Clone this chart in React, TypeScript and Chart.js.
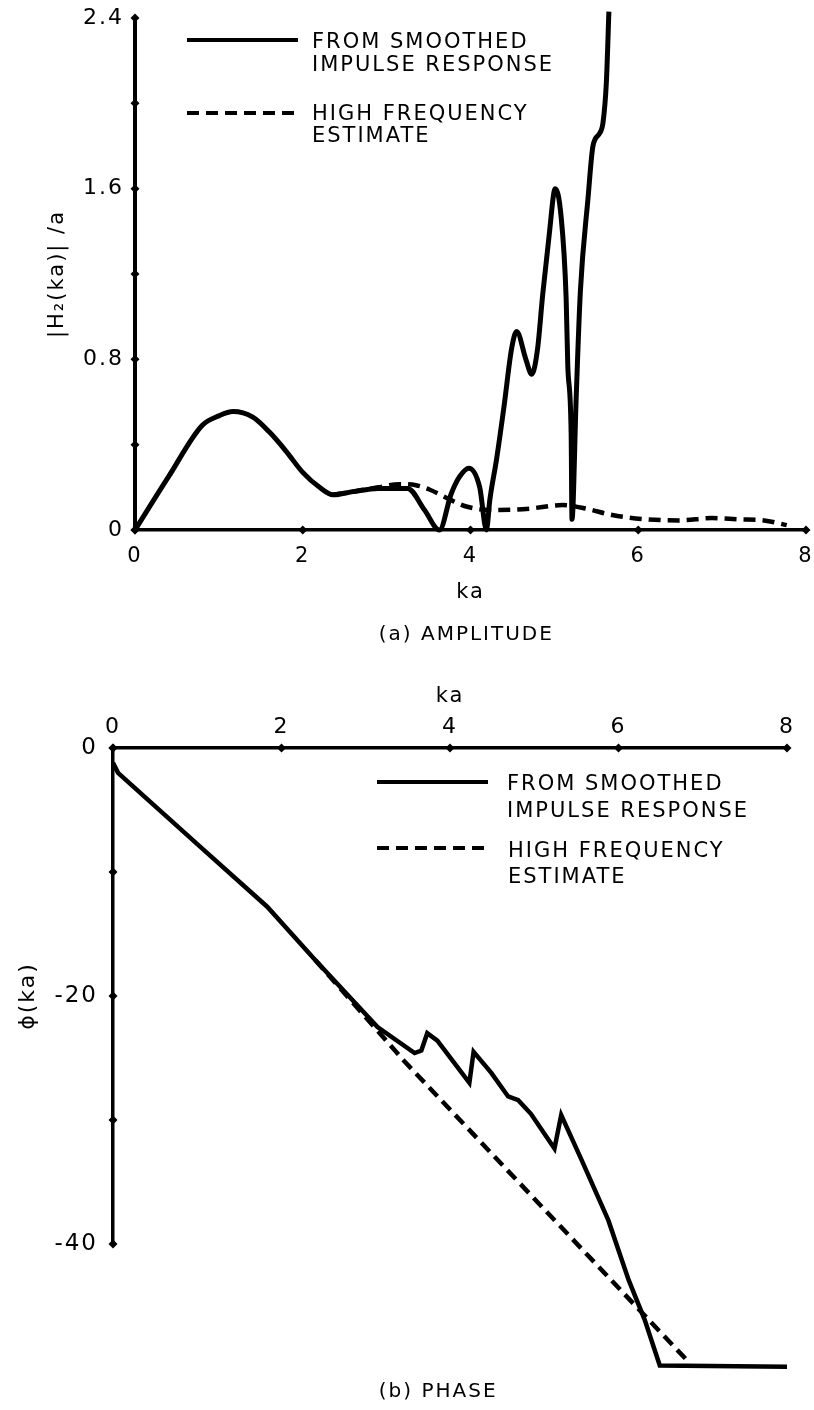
import React, { useEffect, useRef } from 'react';
import { Chart, registerables } from 'chart.js';

Chart.register(...registerables);

// ---------- DATA ----------
const xTickValues = [0, 2, 4, 6, 8];

// (a) amplitude
const ampSolidX = [0, 0.4, 0.8, 1.0, 1.17, 1.4, 1.6, 1.8, 2.0, 2.2, 2.36, 2.6, 2.9, 3.25, 3.45, 3.63, 3.77, 3.87, 3.98, 4.11, 4.19, 4.23, 4.31, 4.40, 4.49, 4.55, 4.66, 4.73, 4.80, 4.86, 4.94, 5.01, 5.08, 5.14, 5.16, 5.20, 5.21, 5.26, 5.31, 5.40, 5.46, 5.54, 5.58, 5.62, 5.65];
const ampSolidY = [0, 0.25, 0.49, 0.535, 0.555, 0.53, 0.46, 0.37, 0.27, 0.20, 0.165, 0.18, 0.195, 0.195, 0.095, 0.0, 0.17, 0.25, 0.29, 0.20, 0.0, 0.14, 0.33, 0.58, 0.85, 0.93, 0.80, 0.73, 0.85, 1.10, 1.39, 1.60, 1.47, 1.09, 0.77, 0.45, 0.05, 0.62, 1.12, 1.55, 1.80, 1.86, 1.91, 2.10, 2.43];
const ampDashX = [2.36, 2.6, 2.9, 3.15, 3.35, 3.51, 3.77, 3.95, 4.23, 4.5, 4.7, 5.1, 5.38, 5.69, 6.1, 6.49, 6.88, 7.2, 7.5, 7.77];
const ampDashY = [0.165, 0.18, 0.20, 0.215, 0.21, 0.19, 0.14, 0.11, 0.094, 0.095, 0.10, 0.117, 0.10, 0.07, 0.05, 0.045, 0.056, 0.05, 0.045, 0.023];
const ampYLabelTicks = [0, 0.8, 1.6, 2.4];

// (b) phase
const phaseSolidX = [0, 0.06, 1.04, 1.83, 2.4, 3.14, 3.58, 3.66, 3.73, 3.85, 4.23, 4.28, 4.49, 4.69, 4.81, 4.96, 5.24, 5.32, 5.56, 5.88, 6.12, 6.31, 6.49, 8.0];
const phaseSolidY = [-1.2, -2.0, -8.0, -12.8, -17.1, -22.5, -24.6, -24.4, -23.0, -23.6, -27.0, -24.5, -26.2, -28.1, -28.4, -29.5, -32.3, -29.6, -33.2, -38.1, -42.9, -46.1, -49.8, -49.9];
const phaseDashX = [2.4, 3.45, 6.83];
const phaseDashY = [-17.1, -25.2, -49.5];
const phaseYLabelTicks = [0, -20, -40];

const solidLegend = ['FROM SMOOTHED', 'IMPULSE RESPONSE'];
const dashedLegend = ['HIGH FREQUENCY', 'ESTIMATE'];
const ampTitle = '|H\u2082(ka)| /a';
const phaseTitle = '\u03D5(ka)';
const xTitle = 'ka';
const ampCaption = '(a) AMPLITUDE';
const phaseCaption = '(b) PHASE';

const FONT = '"DejaVu Sans", "Liberation Sans", sans-serif';
const DASH = [12, 7];

const toPoints = (xs: number[], ys: number[]) => xs.map((x, i) => ({ x, y: ys[i] }));

const spacingPlugin = {
  id: 'letterSpacing',
  beforeDraw(chart: any) {
    (chart.ctx as any).letterSpacing = '2px';
  },
};

const diamondPlugin = {
  id: 'axisDiamonds',
  afterDraw(chart: any) {
    const { ctx, chartArea, scales } = chart;
    const size = 4.5;
    ctx.save();
    ctx.fillStyle = '#000';
    const draw = (x: number, y: number) => {
      ctx.beginPath();
      ctx.moveTo(x, y - size);
      ctx.lineTo(x + size, y);
      ctx.lineTo(x, y + size);
      ctx.lineTo(x - size, y);
      ctx.closePath();
      ctx.fill();
    };
    const xs = scales.x;
    const ys = scales.y;
    const axisY = xs.options.position === 'top' ? chartArea.top : chartArea.bottom;
    xs.ticks.forEach((t: any) => draw(xs.getPixelForValue(t.value), axisY));
    ys.ticks.forEach((t: any) => draw(chartArea.left, ys.getPixelForValue(t.value)));
    ctx.restore();
  },
};

type TextItem = { text: string; x: number; y: number; align: CanvasTextAlign; size: number };
type LegendLine = { x0: number; x1: number; y: number; dashed: boolean };

function annotationPlugin(getItems: (chart: any) => { texts: TextItem[]; lines: LegendLine[] }) {
  return {
    id: 'annotations',
    afterDraw(chart: any) {
      const { ctx } = chart;
      const { texts, lines } = getItems(chart);
      ctx.save();
      ctx.strokeStyle = '#000';
      ctx.lineWidth = 4;
      ctx.lineCap = 'butt';
      lines.forEach((l) => {
        ctx.setLineDash(l.dashed ? DASH : []);
        ctx.beginPath();
        ctx.moveTo(l.x0, l.y);
        ctx.lineTo(l.x1, l.y);
        ctx.stroke();
      });
      ctx.setLineDash([]);
      (ctx as any).letterSpacing = '2px';
      ctx.fillStyle = '#000';
      ctx.textBaseline = 'alphabetic';
      texts.forEach((t) => {
        ctx.font = `${t.size}px ${FONT}`;
        ctx.textAlign = t.align;
        ctx.fillText(t.text, t.x, t.y);
      });
      ctx.restore();
    },
  };
}

function labelFor(list: number[], v: number, digits: number) {
  const hit = list.find((t) => Math.abs(t - v) < 1e-6);
  if (hit === undefined) return '';
  return hit === 0 ? '0' : hit.toFixed(digits);
}

function baseOptions() {
  return {
    responsive: false,
    maintainAspectRatio: false,
    devicePixelRatio: 1,
    animation: false as const,
    events: [] as any[],
    plugins: { legend: { display: false }, tooltip: { enabled: false }, title: { display: false } },
  };
}

export default function App() {
  const topRef = useRef<HTMLCanvasElement>(null);
  const botRef = useRef<HTMLCanvasElement>(null);

  useEffect(() => {
    const top = new Chart(topRef.current as HTMLCanvasElement, {
      type: 'line',
      data: {
        datasets: [
          {
            data: toPoints(ampSolidX, ampSolidY),
            borderColor: '#000',
            borderWidth: 5,
            pointRadius: 0,
            cubicInterpolationMode: 'monotone',
            clip: false,
            fill: false,
          } as any,
          {
            data: toPoints(ampDashX, ampDashY),
            borderColor: '#000',
            borderWidth: 4.5,
            borderDash: DASH,
            pointRadius: 0,
            cubicInterpolationMode: 'monotone',
            clip: false,
            fill: false,
          } as any,
        ],
      },
      options: {
        ...baseOptions(),
        layout: { padding: { left: 0, right: 8, top: 18, bottom: 0 } },
        scales: {
          x: {
            type: 'linear',
            position: 'bottom',
            min: 0,
            max: 8,
            afterBuildTicks: (s: any) => { s.ticks = xTickValues.map((v) => ({ value: v })); },
            ticks: { color: '#000', font: { family: FONT, size: 21 }, padding: 14, maxRotation: 0, autoSkip: false, callback: (v: any) => String(v) },
            grid: { display: false, drawTicks: false },
            border: { display: true, color: '#000', width: 3.5 },
            afterFit: (s: any) => { s.height = 120; s.paddingLeft = 0; s.paddingRight = 0; },
          },
          y: {
            type: 'linear',
            min: 0,
            max: 2.4,
            ticks: { stepSize: 0.4, color: '#000', font: { family: FONT, size: 22 }, padding: 11, autoSkip: false, callback: (v: any) => labelFor(ampYLabelTicks, Number(v), 1) },
            grid: { display: false, drawTicks: false },
            border: { display: true, color: '#000', width: 4 },
            title: { display: true, text: ampTitle, color: '#000', font: { family: FONT, size: 21 }, padding: { top: 45, bottom: 0 } },
            afterFit: (s: any) => { s.width = 135; s.paddingTop = 0; s.paddingBottom = 0; },
          },
        },
      } as any,
      plugins: [
        spacingPlugin,
        diamondPlugin,
        annotationPlugin((chart: any) => {
          const a = chart.chartArea;
          const xs = chart.scales.x;
          return {
            lines: [
              { x0: a.left + 52, x1: a.left + 163, y: a.top + 22, dashed: false },
              { x0: a.left + 52, x1: a.left + 163, y: a.top + 95, dashed: true },
            ],
            texts: [
              { text: solidLegend[0], x: a.left + 177, y: a.top + 30, align: 'left', size: 21 },
              { text: solidLegend[1], x: a.left + 177, y: a.top + 53, align: 'left', size: 21 },
              { text: dashedLegend[0], x: a.left + 177, y: a.top + 102, align: 'left', size: 21 },
              { text: dashedLegend[1], x: a.left + 177, y: a.top + 124, align: 'left', size: 21 },
              { text: xTitle, x: xs.getPixelForValue(4), y: a.bottom + 68, align: 'center', size: 21 },
              { text: ampCaption, x: xs.getPixelForValue(3.95), y: a.bottom + 110, align: 'center', size: 20 },
            ],
          };
        }),
      ],
    });

    const bot = new Chart(botRef.current as HTMLCanvasElement, {
      type: 'line',
      data: {
        datasets: [
          {
            data: toPoints(phaseSolidX, phaseSolidY),
            borderColor: '#000',
            borderWidth: 4.5,
            pointRadius: 0,
            tension: 0,
            clip: false,
            fill: false,
          } as any,
          {
            data: toPoints(phaseDashX, phaseDashY),
            borderColor: '#000',
            borderWidth: 4.5,
            borderDash: DASH,
            pointRadius: 0,
            tension: 0,
            clip: false,
            fill: false,
          } as any,
        ],
      },
      options: {
        ...baseOptions(),
        layout: { padding: { left: 0, right: 27, top: 0, bottom: 166 } },
        scales: {
          x: {
            type: 'linear',
            position: 'top',
            min: 0,
            max: 8,
            afterBuildTicks: (s: any) => { s.ticks = xTickValues.map((v) => ({ value: v })); },
            ticks: { color: '#000', font: { family: FONT, size: 22 }, padding: 8, maxRotation: 0, autoSkip: false, callback: (v: any) => String(v) },
            grid: { display: false, drawTicks: false },
            border: { display: true, color: '#000', width: 3.5 },
            afterFit: (s: any) => { s.height = 98; s.paddingLeft = 0; s.paddingRight = 0; },
          },
          y: {
            type: 'linear',
            min: -40,
            max: 0,
            ticks: { stepSize: 10, color: '#000', font: { family: FONT, size: 23 }, padding: 15, autoSkip: false, callback: (v: any) => labelFor(phaseYLabelTicks, Number(v), 0) },
            grid: { display: false, drawTicks: false },
            border: { display: true, color: '#000', width: 3.5 },
            title: { display: true, text: phaseTitle, color: '#000', font: { family: FONT, size: 22 }, padding: { top: 15, bottom: 0 } },
            afterFit: (s: any) => { s.width = 113; s.paddingTop = 0; s.paddingBottom = 0; },
          },
        },
      } as any,
      plugins: [
        spacingPlugin,
        diamondPlugin,
        annotationPlugin((chart: any) => {
          const a = chart.chartArea;
          const xs = chart.scales.x;
          return {
            lines: [
              { x0: a.left + 264, x1: a.left + 375, y: a.top + 34, dashed: false },
              { x0: a.left + 264, x1: a.left + 375, y: a.top + 100, dashed: true },
            ],
            texts: [
              { text: solidLegend[0], x: a.left + 394, y: a.top + 42, align: 'left', size: 21 },
              { text: solidLegend[1], x: a.left + 394, y: a.top + 69, align: 'left', size: 21 },
              { text: dashedLegend[0], x: a.left + 395, y: a.top + 109, align: 'left', size: 21 },
              { text: dashedLegend[1], x: a.left + 395, y: a.top + 135, align: 'left', size: 21 },
              { text: xTitle, x: xs.getPixelForValue(4), y: a.top - 46, align: 'center', size: 21 },
              { text: phaseCaption, x: xs.getPixelForValue(3.86), y: a.bottom + 153, align: 'center', size: 20 },
            ],
          };
        }),
      ],
    });

    return () => {
      top.destroy();
      bot.destroy();
    };
  }, []);

  return (
    <div style={{ position: 'absolute', left: 0, top: 0, width: 814, height: 1410, background: '#fff' }}>
      <canvas ref={topRef} width={814} height={650} style={{ position: 'absolute', left: 0, top: 0, width: 814, height: 650 }} />
      <canvas ref={botRef} width={814} height={760} style={{ position: 'absolute', left: 0, top: 650, width: 814, height: 760 }} />
    </div>
  );
}
